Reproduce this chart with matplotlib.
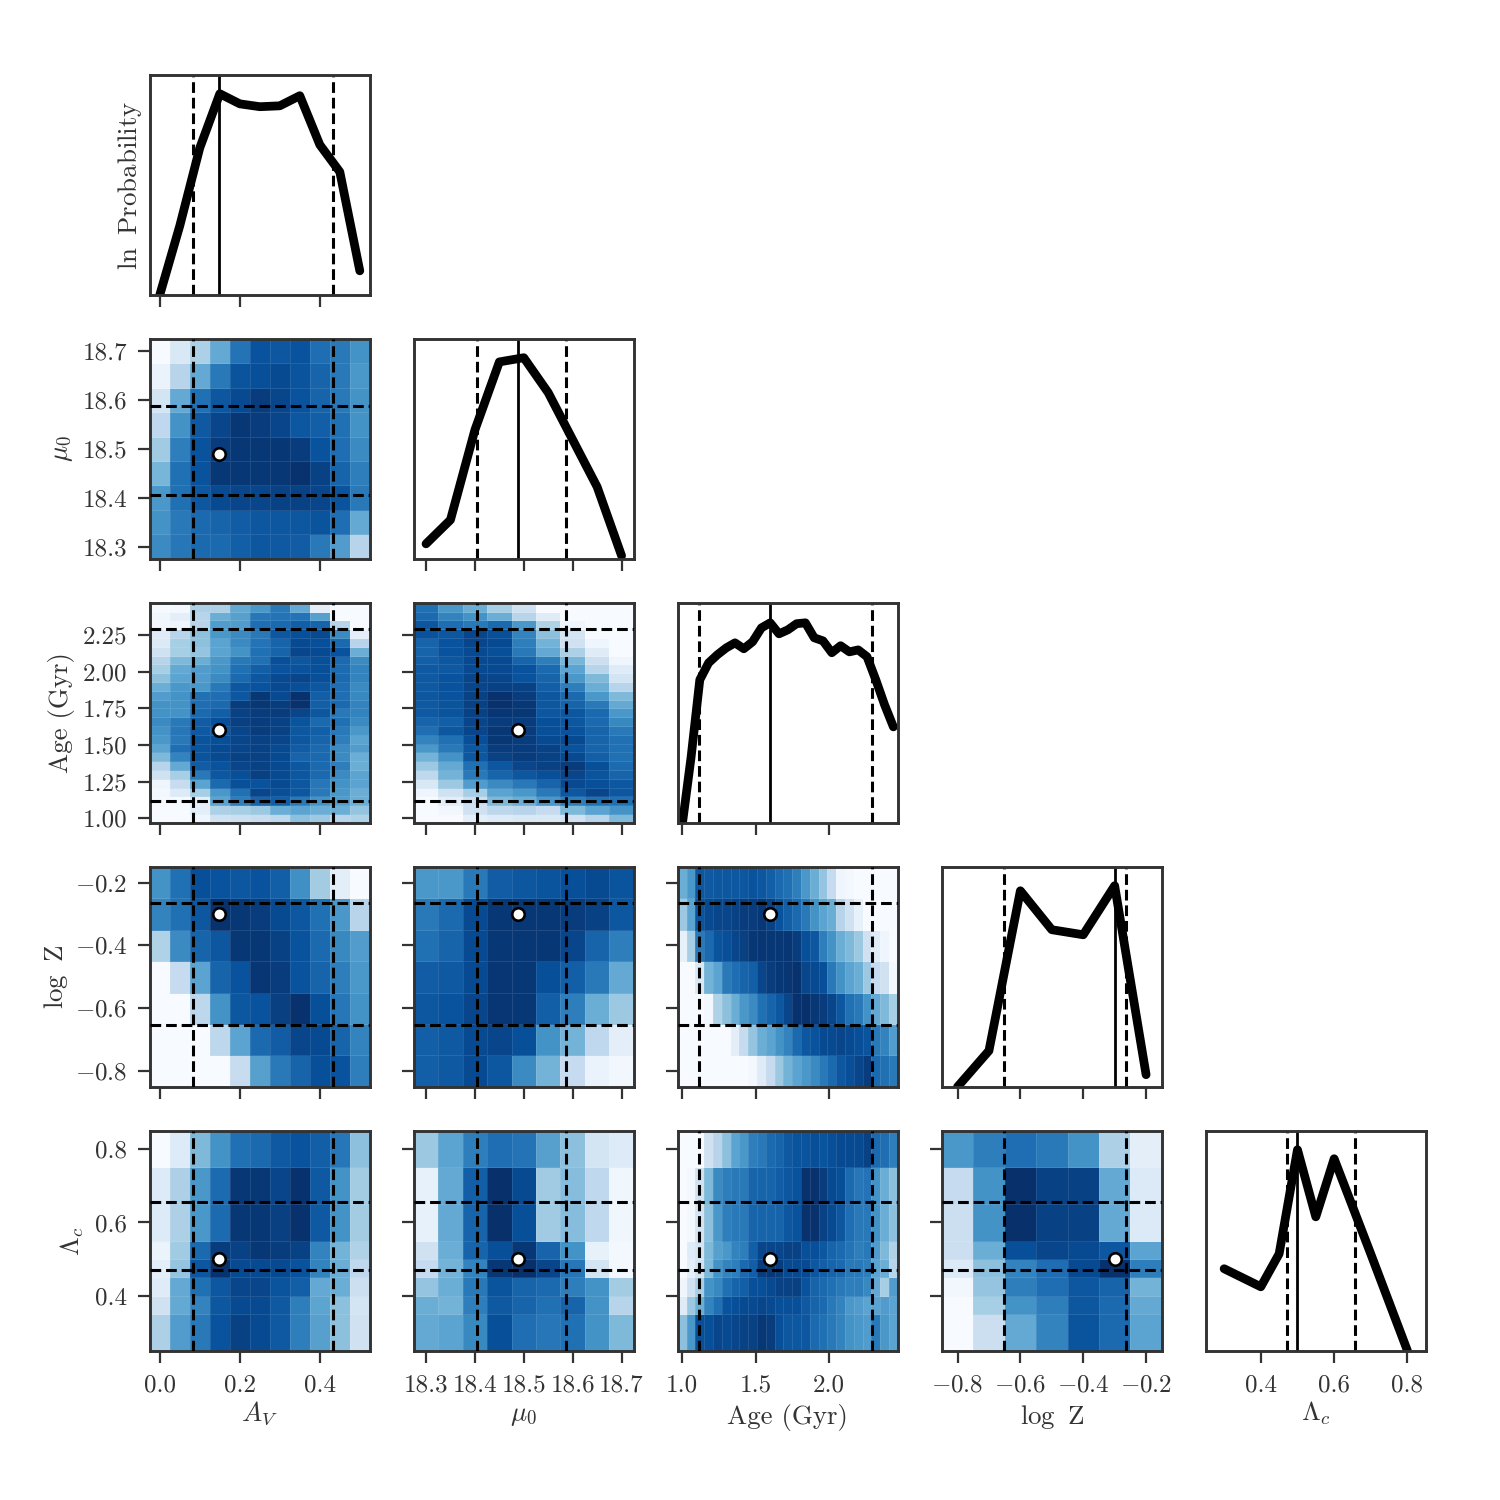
import numpy as np
import matplotlib
matplotlib.use("Agg")
import matplotlib.pyplot as plt

plt.rcParams["font.family"] = ["cmr10"]
plt.rcParams["mathtext.fontset"] = "cm"
plt.rcParams["axes.formatter.use_mathtext"] = True
plt.rcParams["axes.unicode_minus"] = False

INK = "#333333"

# Parameter grids (cell centres)
av_grid = [0.0, 0.05, 0.10, 0.15, 0.20, 0.25, 0.30, 0.35, 0.40, 0.45, 0.50]
mu_grid = [18.30, 18.35, 18.40, 18.45, 18.50, 18.55, 18.60, 18.65, 18.70]
age_grid = [1.00, 1.06, 1.12, 1.18, 1.24, 1.30, 1.36, 1.42, 1.48, 1.54, 1.60, 1.66, 1.72,
            1.78, 1.84, 1.90, 1.96, 2.02, 2.08, 2.14, 2.20, 2.26, 2.32, 2.38, 2.44]
logz_grid = [-0.8, -0.7, -0.6, -0.5, -0.4, -0.3, -0.2]
lam_grid = [0.3, 0.4, 0.45, 0.5, 0.55, 0.6, 0.7, 0.8]
lam_edges = [0.25, 0.35, 0.40, 0.45, 0.50, 0.55, 0.65, 0.75, 0.85]

# Marginalised ln probability, scaled to the panel height
marg_av = [0.0, .314, .668, .914, .868, .855, .859, .905, .682, .559, .109]
marg_mu = [.068, .177, .586, .895, .914, .755, .541, .327, .014]
marg_age = [-.01, .295, .65, .727, .764, .795, .818, .791, .823, .886, .909, .859, .877,
            .905, .909, .841, .827, .773, .805, .777, .786, .755, .65, .536, .436]
marg_logz = [0.0, .164, .891, .714, .691, .914, .055]
marg_lam = [.373, .291, .441, .914, .609, .873, .44, 0.0]

# Joint probability tables, listed from the top row of each panel downward
mu_av = [
    [.00, .15, .33, .52, .74, .87, .85, .87, .76, .72, .62],
    [.07, .30, .52, .72, .86, .88, .90, .86, .80, .72, .60],
    [.18, .52, .75, .85, .90, .95, .92, .87, .80, .72, .62],
    [.27, .62, .84, .92, .97, .95, .92, .85, .82, .75, .62],
    [.37, .70, .87, .95, .97, .97, .97, .95, .87, .76, .65],
    [.47, .75, .87, .97, .97, .97, .97, .99, .93, .80, .70],
    [.60, .75, .85, .90, .92, .92, .93, .93, .92, .86, .72],
    [.62, .72, .78, .80, .83, .85, .85, .85, .86, .76, .52],
    [.65, .73, .78, .78, .82, .85, .84, .83, .72, .58, .30],
]
age_av = [
    [.01, .02, .33, .33, .52, .60, .72, .52, .10, .00, .00],
    [.04, .10, .30, .50, .56, .73, .74, .74, .56, .00, .00],
    [.03, .05, .30, .58, .58, .76, .78, .82, .80, .30, .00],
    [.12, .30, .42, .60, .65, .72, .85, .88, .90, .65, .10],
    [.14, .35, .42, .55, .65, .74, .80, .90, .88, .78, .30],
    [.20, .35, .40, .55, .62, .75, .80, .92, .90, .87, .50],
    [.30, .45, .50, .60, .72, .75, .88, .85, .88, .78, .65],
    [.35, .52, .58, .62, .75, .82, .87, .87, .88, .77, .68],
    [.42, .55, .58, .65, .78, .85, .90, .92, .88, .78, .68],
    [.50, .60, .60, .72, .85, .87, .90, .88, .85, .76, .65],
    [.58, .62, .75, .76, .85, .97, .90, .99, .82, .76, .66],
    [.62, .62, .76, .78, .95, .97, .95, .99, .82, .78, .68],
    [.62, .62, .78, .82, .93, .95, .95, .92, .85, .72, .68],
    [.65, .72, .83, .88, .94, .95, .93, .86, .78, .75, .65],
    [.62, .73, .84, .85, .92, .95, .93, .85, .82, .72, .60],
    [.60, .72, .86, .88, .92, .93, .92, .85, .80, .70, .55],
    [.55, .76, .86, .90, .92, .93, .90, .83, .78, .65, .58],
    [.45, .68, .86, .90, .93, .93, .90, .80, .78, .65, .50],
    [.30, .52, .83, .87, .92, .93, .90, .85, .78, .70, .50],
    [.20, .35, .72, .85, .88, .94, .90, .85, .78, .65, .55],
    [.05, .24, .55, .78, .88, .87, .90, .85, .73, .62, .55],
    [.02, .13, .35, .60, .75, .92, .88, .85, .72, .60, .50],
    [.01, .01, .10, .55, .70, .80, .82, .72, .62, .58, .50],
    [.00, .00, .10, .33, .35, .38, .50, .55, .50, .50, .40],
    [.00, .00, .05, .20, .22, .24, .28, .42, .38, .30, .32],
]
age_mu = [
    [.75, .60, .50, .35, .20, .00, .00, .00, .00],
    [.78, .68, .62, .50, .30, .12, .00, .00, .00],
    [.85, .76, .72, .78, .60, .32, .05, .00, .00],
    [.87, .85, .92, .88, .68, .42, .18, .00, .00],
    [.80, .87, .92, .90, .70, .48, .20, .05, .00],
    [.80, .87, .90, .88, .72, .52, .33, .12, .00],
    [.82, .85, .90, .90, .80, .70, .47, .22, .05],
    [.84, .84, .90, .90, .87, .78, .55, .30, .12],
    [.84, .87, .92, .92, .87, .80, .60, .45, .18],
    [.84, .87, .92, .93, .93, .82, .70, .50, .30],
    [.85, .87, .93, .99, .95, .85, .78, .60, .45],
    [.84, .86, .93, .99, .97, .85, .80, .72, .52],
    [.84, .86, .93, .98, .97, .85, .85, .78, .60],
    [.80, .82, .92, .95, .95, .88, .85, .78, .66],
    [.76, .85, .92, .97, .95, .88, .87, .80, .72],
    [.68, .75, .88, .97, .95, .90, .90, .80, .75],
    [.60, .72, .85, .95, .95, .93, .87, .80, .75],
    [.48, .62, .85, .93, .95, .93, .90, .82, .75],
    [.38, .52, .75, .85, .92, .93, .95, .88, .77],
    [.27, .48, .72, .80, .85, .88, .92, .86, .80],
    [.15, .38, .58, .65, .72, .80, .90, .88, .85],
    [.05, .20, .35, .55, .60, .72, .85, .92, .85],
    [.00, .10, .22, .45, .50, .60, .70, .75, .75],
    [.00, .03, .20, .28, .30, .25, .45, .55, .62],
    [.00, .00, .10, .13, .15, .15, .20, .30, .45],
]
logz_av = [
    [.62, .75, .88, .87, .85, .87, .82, .63, .36, .10, .00],
    [.68, .75, .85, .99, .97, .95, .90, .85, .75, .60, .30],
    [.32, .65, .80, .85, .97, .97, .93, .87, .78, .66, .58],
    [.00, .25, .55, .80, .87, .98, .95, .87, .80, .70, .60],
    [.00, .00, .28, .62, .85, .87, .94, .99, .88, .73, .62],
    [.00, .00, .00, .28, .55, .78, .83, .92, .90, .80, .68],
    [.00, .00, .00, .00, .24, .56, .72, .80, .88, .87, .70],
]
logz_mu = [
    [.60, .60, .72, .83, .85, .86, .88, .90, .86],
    [.72, .78, .90, .97, .97, .97, .95, .93, .85],
    [.75, .80, .90, .97, .97, .97, .92, .80, .70],
    [.83, .84, .90, .98, .97, .88, .82, .72, .52],
    [.85, .87, .92, .98, .97, .82, .70, .50, .38],
    [.82, .84, .90, .92, .88, .62, .48, .27, .10],
    [.82, .84, .90, .85, .65, .48, .25, .07, .03],
]
logz_age = [
    [.50, .60, .85, .84, .85, .85, .85, .85, .87, .85, .82, .78, .75,
     .70, .60, .50, .40, .25, .05, .02, .00, .00, .00, .00, .00],
    [.38, .55, .86, .90, .92, .92, .93, .95, .95, .97, .93, .87, .82,
     .78, .72, .62, .55, .50, .30, .20, .08, .00, .00, .00, .00],
    [.08, .35, .72, .78, .86, .88, .92, .94, .97, .98, .97, .97, .98,
     .95, .88, .85, .70, .62, .50, .45, .38, .20, .12, .05, .00],
    [.00, .00, .15, .48, .55, .72, .76, .80, .82, .92, .95, .97, .98,
     .99, .92, .90, .88, .72, .62, .55, .50, .38, .25, .20, .02],
    [.00, .00, .00, .02, .32, .42, .50, .60, .65, .75, .80, .85, .92,
     .99, 1.0, .97, .95, .92, .85, .75, .72, .62, .52, .45, .35],
    [.00, .00, .00, .00, .00, .00, .10, .25, .40, .50, .55, .62, .68,
     .78, .85, .87, .90, .90, .92, .90, .88, .86, .72, .68, .58],
    [.00, .00, .00, .00, .00, .00, .00, .00, .02, .12, .25, .38, .48,
     .55, .60, .65, .72, .78, .85, .88, .92, .95, .78, .75, .72],
]
lam_av = [
    [.00, .13, .45, .62, .75, .78, .84, .87, .82, .73, .42],
    [.13, .33, .60, .77, .97, .97, .92, .99, .84, .62, .36],
    [.13, .33, .60, .77, .97, .97, .94, .99, .84, .62, .36],
    [.06, .37, .78, .95, .93, .97, .95, .93, .68, .48, .32],
    [.10, .40, .85, .99, .90, .90, .90, .87, .68, .50, .27],
    [.12, .52, .75, .85, .92, .92, .86, .82, .52, .50, .22],
    [.20, .52, .68, .85, .90, .90, .84, .70, .54, .42, .18],
    [.33, .58, .72, .87, .93, .90, .84, .70, .56, .42, .20],
]
lam_mu = [
    [.38, .55, .70, .76, .74, .56, .42, .18, .13],
    [.08, .52, .82, 1.0, .90, .37, .43, .27, .04],
    [.08, .52, .80, 1.0, .88, .37, .43, .27, .04],
    [.20, .50, .80, .88, .97, .80, .62, .08, .02],
    [.25, .48, .68, .97, 1.0, .92, .73, .18, .02],
    [.40, .50, .72, .86, .80, .78, .70, .62, .36],
    [.50, .48, .70, .84, .80, .75, .80, .62, .30],
    [.52, .55, .66, .88, .76, .73, .75, .62, .45],
]
lam_age = [
    [.00, .00, .00, .20, .30, .42, .55, .60, .70, .72, .78, .80, .84,
     .86, .86, .88, .86, .88, .90, .90, .90, .93, .78, .76, .70],
    [.00, .02, .20, .45, .65, .70, .72, .72, .80, .80, .80, .83, .85,
     .87, .99, .99, .95, .90, .88, .78, .73, .74, .62, .50, .42],
    [.00, .02, .18, .42, .60, .70, .72, .72, .80, .80, .80, .80, .85,
     .87, .99, .99, .93, .90, .85, .76, .72, .72, .62, .50, .42],
    [.00, .12, .18, .45, .56, .60, .68, .70, .82, .92, .92, .92, .93,
     .93, .88, .88, .85, .80, .78, .74, .70, .72, .58, .45, .32],
    [.00, .10, .20, .45, .62, .68, .70, .78, .82, .95, .97, .95, .90,
     .90, .90, .85, .82, .80, .78, .72, .72, .70, .55, .50, .30],
    [.05, .20, .35, .62, .66, .75, .80, .82, .88, .88, .90, .93, .93,
     .94, .87, .80, .78, .75, .72, .70, .70, .66, .52, .35, .58],
    [.12, .38, .50, .68, .75, .87, .88, .90, .90, .92, .90, .88, .88,
     .88, .84, .80, .78, .72, .68, .60, .58, .55, .55, .58, .55],
    [.42, .60, .88, .88, .92, .90, .92, .93, .93, .97, .95, .88, .85,
     .85, .85, .78, .75, .72, .68, .62, .60, .58, .72, .60, .55],
]
lam_logz = [
    [.60, .70, .76, .72, .62, .33, .10],
    [.25, .62, 1.0, .93, .93, .52, .14],
    [.22, .62, 1.0, .93, .93, .52, .14],
    [.22, .50, .88, .92, .90, .85, .55],
    [.14, .42, .68, .76, .90, .99, .70],
    [.03, .40, .70, .76, .85, .80, .48],
    [.00, .35, .62, .70, .85, .78, .52],
    [.00, .22, .52, .68, .86, .78, .55],
]

# Best-fit value and the lower/upper credible bounds of each parameter
best = [0.1475, 18.489, 1.60, -0.30, 0.50]
lower = [0.0825, 18.405, 1.116, -0.652, 0.471]
upper = [0.4325, 18.587, 2.292, -0.265, 0.656]

names = [r"$A_V$", r"$\mu_0$", "Age (Gyr)", r"log $\,$Z", r"$\Lambda_c$"]
x_tick_values = [[0.0, 0.2, 0.4], [18.3, 18.4, 18.5, 18.6, 18.7], [1.0, 1.5, 2.0],
                 [-0.8, -0.6, -0.4, -0.2], [0.4, 0.6, 0.8]]
x_tick_labels = [["0.0", "0.2", "0.4"], ["18.3", "18.4", "18.5", "18.6", "18.7"],
                 ["1.0", "1.5", "2.0"],
                 [r"$-0.8$", r"$-0.6$", r"$-0.4$", r"$-0.2$"], ["0.4", "0.6", "0.8"]]
y_tick_values = [[0.0, 0.2, 0.4], [18.3, 18.4, 18.5, 18.6, 18.7],
                 [1.0, 1.25, 1.5, 1.75, 2.0, 2.25],
                 [-0.8, -0.6, -0.4, -0.2], [0.4, 0.6, 0.8]]
y_tick_labels = [["0.0", "0.2", "0.4"], ["18.3", "18.4", "18.5", "18.6", "18.7"],
                 ["1.00", "1.25", "1.50", "1.75", "2.00", "2.25"],
                 [r"$-0.8$", r"$-0.6$", r"$-0.4$", r"$-0.2$"], ["0.4", "0.6", "0.8"]]

# Label offsets per parameter, in points
x_label_pad = [2.0, 5.7, 5.7, 5.0, 2.0]
y_label_pad = [7.0, 5.8, 5.8, 3.3, 7.0]

DASH = (0, (3.5, 1.6))


def edges_from_centres(centres):
    c = np.asarray(centres, float)
    mid = 0.5 * (c[1:] + c[:-1])
    return np.concatenate([[c[0] - (mid[0] - c[0])], mid, [c[-1] + (c[-1] - mid[-1])]])


grids = [av_grid, mu_grid, age_grid, logz_grid, lam_grid]
edges = [edges_from_centres(g) for g in grids[:4]] + [np.asarray(lam_edges)]
marginals = [marg_av, marg_mu, marg_age, marg_logz, marg_lam]
joints = {
    (1, 0): mu_av,
    (2, 0): age_av, (2, 1): age_mu,
    (3, 0): logz_av, (3, 1): logz_mu, (3, 2): logz_age,
    (4, 0): lam_av, (4, 1): lam_mu, (4, 2): lam_age, (4, 3): lam_logz,
}

fig = plt.figure(figsize=(15, 15), dpi=100)
panel = 220 / 1500
pitch = 264 / 1500
left0 = 149.8 / 1500
top0 = 74.8 / 1500


def style(ax, col, row):
    for s in ax.spines.values():
        s.set_linewidth(2.1)
        s.set_color(INK)
    ax.tick_params(length=8.5, width=1.6, color=INK, labelcolor=INK, labelsize=18)
    ax.tick_params(axis="x", pad=8.4)
    ax.tick_params(axis="y", pad=7.7)
    ax.set_xlim(edges[col][0], edges[col][-1])
    ax.set_xticks(x_tick_values[col])
    if row == 4:
        ax.set_xticklabels(x_tick_labels[col])
        ax.set_xlabel(names[col], fontsize=19.4, color=INK, labelpad=x_label_pad[col])
    else:
        ax.set_xticklabels([])


for row in range(5):
    for col in range(row + 1):
        ax = fig.add_axes([left0 + col * pitch, 1 - top0 - row * pitch - panel, panel, panel])
        style(ax, col, row)
        if col == row:
            # Diagonal: marginal curve with best-fit and credible-bound lines
            ax.plot(grids[col], marginals[col], color="k", lw=6.3,
                    solid_capstyle="round", solid_joinstyle="round")
            ax.set_ylim(0, 1)
            ax.set_yticks([])
            ax.axvline(best[col], color="k", lw=2)
            ax.axvline(lower[col], color="k", lw=2.2, ls=DASH)
            ax.axvline(upper[col], color="k", lw=2.2, ls=DASH)
            if row == 0:
                ax.set_ylabel(r"ln $\,$Probability", fontsize=19.4, color=INK, labelpad=4.5)
        else:
            # Off-diagonal: joint probability mesh with faint cell seams
            z = np.array(joints[(row, col)])[::-1]
            ax.pcolormesh(edges[col], edges[row], z, cmap="Blues", vmin=0, vmax=1,
                          edgecolors=(1, 1, 1, 0.10), linewidth=0.6)
            ax.set_ylim(edges[row][0], edges[row][-1])
            ax.set_yticks(y_tick_values[row])
            if col == 0:
                ax.set_yticklabels(y_tick_labels[row])
                ax.set_ylabel(names[row], fontsize=19.4, color=INK, labelpad=y_label_pad[row])
            else:
                ax.set_yticklabels([])
            for v in (lower[col], upper[col]):
                ax.axvline(v, color="k", lw=2.2, ls=DASH, zorder=3)
            for v in (lower[row], upper[row]):
                ax.axhline(v, color="k", lw=2.2, ls=DASH, zorder=3)
            ax.plot([best[col]], [best[row]], "o", ms=9, mfc="white", mec="k", mew=1.9, zorder=4)

fig.savefig("out.png", dpi=100)
